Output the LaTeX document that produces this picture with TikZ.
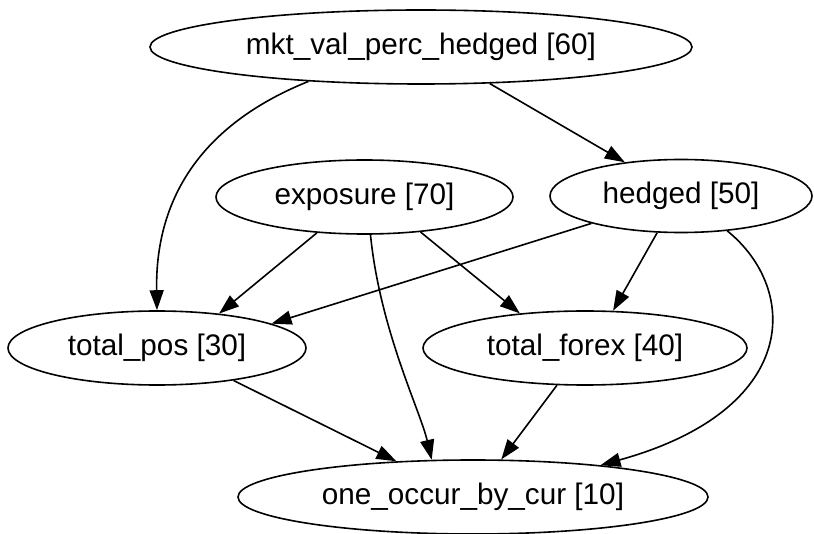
\documentclass[tikz,border=0pt]{standalone}
\usepackage{fontspec}
\setmainfont{Liberation Sans}
\usetikzlibrary{shapes.geometric,arrows.meta}
\begin{document}
\begin{tikzpicture}[x=1pt,y=-1pt,
  nd/.style={ellipse,draw,line width=1.6pt,inner sep=0pt,font=\fontsize{29.7}{35}\selectfont},
  ed/.style={line width=1.6pt,-{Triangle[length=20pt,width=14pt]}}]
\useasboundingbox (0,0) rectangle (814,534);
\node[nd,minimum width=542pt,minimum height=74pt] (mkt) at (421,47) {mkt\_val\_perc\_hedged [60]};
\node[nd,minimum width=297pt,minimum height=74pt] (exp) at (364.5,197) {exposure [70]};
\node[nd,minimum width=262pt,minimum height=73pt] (hed) at (681,196) {hedged [50]};
\node[nd,minimum width=298pt,minimum height=74pt] (tp) at (157,348) {total\_pos [30]};
\node[nd,minimum width=324pt,minimum height=74pt] (tf) at (585,348) {total\_forex [40]};
\node[nd,minimum width=470pt,minimum height=74pt] (one) at (473,497) {one\_occur\_by\_cur [10]};
\draw[ed] (mkt.-163.9) .. controls (200,125) and (155,200) .. (tp.90);
\draw[ed] (mkt.-28.5) -- (hed.149.5);
\draw[ed] (exp.-143) -- (tp.29);
\draw[ed] (exp.-32.8) -- (tf.152.5);
\draw[ed] (exp.-81.5) .. controls (380,330) and (420,410) .. (one.138.4);
\draw[ed] (hed.-163.9) -- (tp.12.5);
\draw[ed] (hed.-123.8) -- (tf.53.5);
\draw[ed] (hed.-37.3) .. controls (800,290) and (800,410) .. (one.14.5);
\draw[ed] (tp.-23.9) -- (one.155.9);
\draw[ed] (tf.-127.6) -- (one.53.7);
\end{tikzpicture}
\end{document}
